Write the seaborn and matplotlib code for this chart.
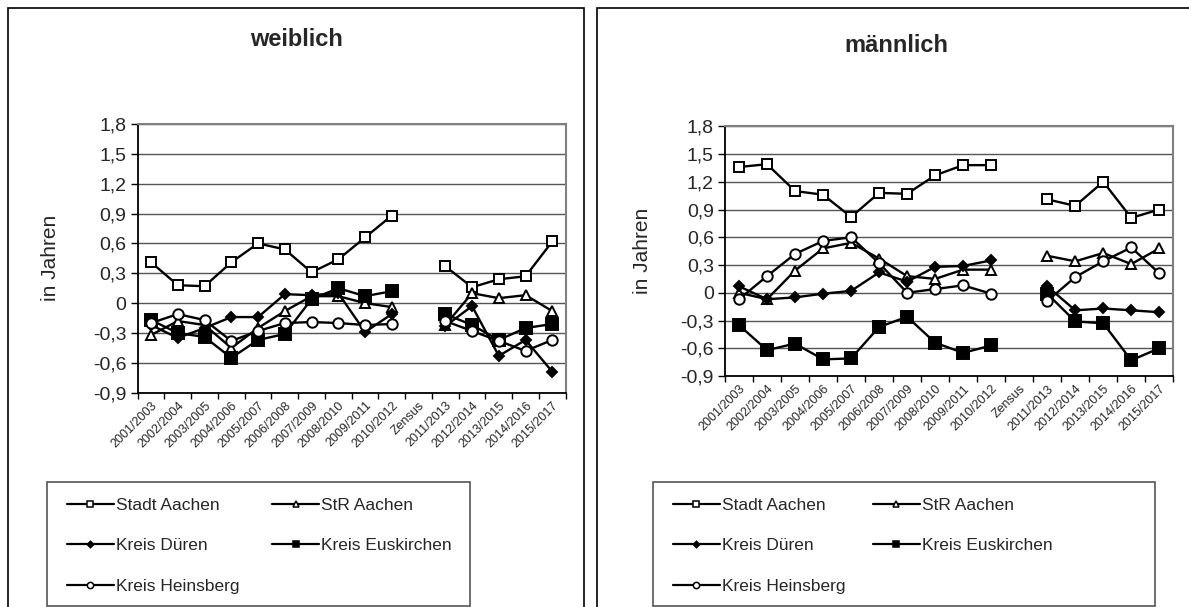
import numpy as np
import pandas as pd
import seaborn as sns
from matplotlib import pyplot as plt
from matplotlib.lines import Line2D
from matplotlib.patches import Rectangle
from matplotlib.ticker import FixedLocator, FuncFormatter

nan = np.nan

categories = ['2001/2003', '2002/2004', '2003/2005', '2004/2006', '2005/2007',
              '2006/2008', '2007/2009', '2008/2010', '2009/2011', '2010/2012',
              'Zensus', '2011/2013', '2012/2014', '2013/2015', '2014/2016', '2015/2017']
segments = [0] * 10 + [-1] + [1] * 5  # Zensus trennt die Linien

regions = ['Stadt Aachen', 'StR Aachen', 'Kreis Düren', 'Kreis Euskirchen', 'Kreis Heinsberg']

# weiblich
stadt_w = [0.41, 0.18, 0.17, 0.41, 0.60, 0.54, 0.31, 0.44, 0.66, 0.88, nan, 0.37, 0.16, 0.24, 0.27, 0.62]
str_w = [-0.32, -0.18, -0.22, -0.45, -0.25, -0.08, 0.07, 0.07, 0.00, -0.04, nan, -0.22, 0.10, 0.05, 0.08, -0.08]
dueren_w = [-0.22, -0.35, -0.25, -0.14, -0.14, 0.09, 0.08, 0.10, -0.29, -0.11, nan, -0.23, -0.03, -0.53, -0.37, -0.69]
eus_w = [-0.17, -0.30, -0.34, -0.55, -0.37, -0.31, 0.04, 0.15, 0.07, 0.12, nan, -0.11, -0.22, -0.37, -0.25, -0.21]
hein_w = [-0.20, -0.11, -0.17, -0.38, -0.28, -0.20, -0.19, -0.20, -0.22, -0.21, nan, -0.18, -0.28, -0.38, -0.48, -0.37]

# männlich
stadt_m = [1.36, 1.39, 1.10, 1.06, 0.82, 1.08, 1.07, 1.27, 1.38, 1.38, nan, 1.01, 0.94, 1.20, 0.81, 0.90]
str_m = [0.00, -0.07, 0.24, 0.48, 0.54, 0.37, 0.18, 0.15, 0.25, 0.25, nan, 0.40, 0.34, 0.43, 0.31, 0.48]
dueren_m = [0.07, -0.07, -0.05, -0.01, 0.02, 0.22, 0.12, 0.28, 0.29, 0.35, nan, 0.07, -0.19, -0.17, -0.19, -0.21]
eus_m = [-0.35, -0.62, -0.55, -0.72, -0.71, -0.37, -0.26, -0.54, -0.65, -0.57, nan, -0.01, -0.31, -0.33, -0.73, -0.60]
hein_m = [-0.07, 0.18, 0.42, 0.56, 0.60, 0.32, 0.00, 0.04, 0.08, -0.01, nan, -0.09, 0.17, 0.34, 0.49, 0.21]

yticks = [-0.9, -0.6, -0.3, 0, 0.3, 0.6, 0.9, 1.2, 1.5, 1.8]

# marker, face colour, size
styles = {
    'Stadt Aachen': ('s', 'white', 7.5),
    'StR Aachen': ('^', 'white', 7.5),
    'Kreis Düren': ('D', 'black', 5.5),
    'Kreis Euskirchen': ('s', 'black', 8),
    'Kreis Heinsberg': ('o', 'white', 7.5),
}

sns.set_style('white')
plt.rcParams['font.family'] = ['Liberation Sans', 'DejaVu Sans']

W, H = 1189, 607
fig = plt.figure(figsize=(11.89, 6.07), dpi=100)


def box(x0, y0, x1, y1, color='black', lw=1.2):
    # Rechteck in Pixelkoordinaten (y von oben)
    fig.patches.append(Rectangle((x0 / W, 1 - y1 / H), (x1 - x0) / W, (y1 - y0) / H,
                                 transform=fig.transFigure, fill=False, ec=color, lw=lw))


# Rahmen um beide Diagramme
box(8, 8, 584, 615)
box(597, 8, 1200, 615)

panels = [
    ('weiblich', [stadt_w, str_w, dueren_w, eus_w, hein_w],
     (137.7, 124, 565.7, 392.7), (297, 40), 50, (47, 482, 470, 606), 1.9),
    ('männlich', [stadt_m, str_m, dueren_m, eus_m, hein_m],
     (725, 126.3, 1173.3, 376), (896, 45), 643, (653, 482, 1155, 606), 1.6),
]

for title, series, (ax0, ay0, ax1, ay1), tpos, ylab_x, (lx0, ly0, lx1, ly1), colsp in panels:
    ax = fig.add_axes([ax0 / W, 1 - ay1 / H, (ax1 - ax0) / W, (ay1 - ay0) / H])
    for name, vals in zip(regions, series):
        df = pd.DataFrame({'pos': np.arange(len(categories)) + 0.5, 'val': vals, 'seg': segments})
        df = df.dropna()
        marker, face, size = styles[name]
        sns.lineplot(data=df, x='pos', y='val', units='seg', estimator=None, ax=ax,
                     color='black', lw=1.7, marker=marker, mfc=face, mec='black',
                     ms=size, mew=1.4, legend=False, zorder=3)

    ax.set_xlim(0, len(categories))
    ax.set_ylim(-0.9, 1.8)
    ax.set_yticks(yticks)
    ax.yaxis.set_major_formatter(FuncFormatter(lambda v, p: '0' if abs(v) < 1e-9 else f'{v:.1f}'.replace('.', ',')))
    ax.grid(axis='y', color='#555555', lw=1.0)
    ax.set_axisbelow(True)

    ax.xaxis.set_major_locator(FixedLocator(np.arange(len(categories) + 1)))
    ax.xaxis.set_major_formatter(FuncFormatter(lambda v, p: ''))
    ax.xaxis.set_minor_locator(FixedLocator(np.arange(len(categories)) + 0.5))
    ax.set_xticklabels(categories, minor=True, rotation=45, ha='right', rotation_mode='anchor', fontsize=9)
    ax.tick_params(axis='x', which='major', direction='out', length=4, width=1, color='black', bottom=True)
    ax.tick_params(axis='x', which='minor', length=0, pad=5)
    ax.tick_params(axis='y', direction='out', length=5, width=1, color='black', left=True, labelsize=14, pad=3)

    for s in ['left', 'bottom']:
        ax.spines[s].set_color('black')
        ax.spines[s].set_linewidth(1.3)
    for s in ['top', 'right']:
        ax.spines[s].set_color('#808080')
        ax.spines[s].set_linewidth(1.5)

    ax.set_xlabel('')
    ax.set_ylabel('')
    fig.text(ylab_x / W, 1 - (ay0 + ay1) / 2 / H, 'in Jahren',
             rotation=90, ha='center', va='center', fontsize=15)
    fig.text(tpos[0] / W, 1 - tpos[1] / H, title, ha='center', va='center',
             fontsize=17, fontweight='bold')

    handles = []
    for name in ['Stadt Aachen', 'Kreis Düren', 'Kreis Heinsberg', 'StR Aachen', 'Kreis Euskirchen']:
        marker, face, size = styles[name]
        handles.append(Line2D([], [], color='black', lw=1.6, marker=marker, mfc=face, mec='black',
                              ms=size * 0.6, mew=1.1, label=name))
    box(lx0, ly0, lx1, ly1, color='#555555')
    fig.legend(handles=handles, ncol=2, loc='upper left',
               bbox_to_anchor=((lx0 + 20) / W, 1 - (ly0 + 16) / H),
               fontsize=12.5, frameon=False, handlelength=2.7,
               handletextpad=0.1, labelspacing=1.45, borderpad=0, borderaxespad=0,
               columnspacing=colsp)

fig.savefig('out.png', dpi=100)
